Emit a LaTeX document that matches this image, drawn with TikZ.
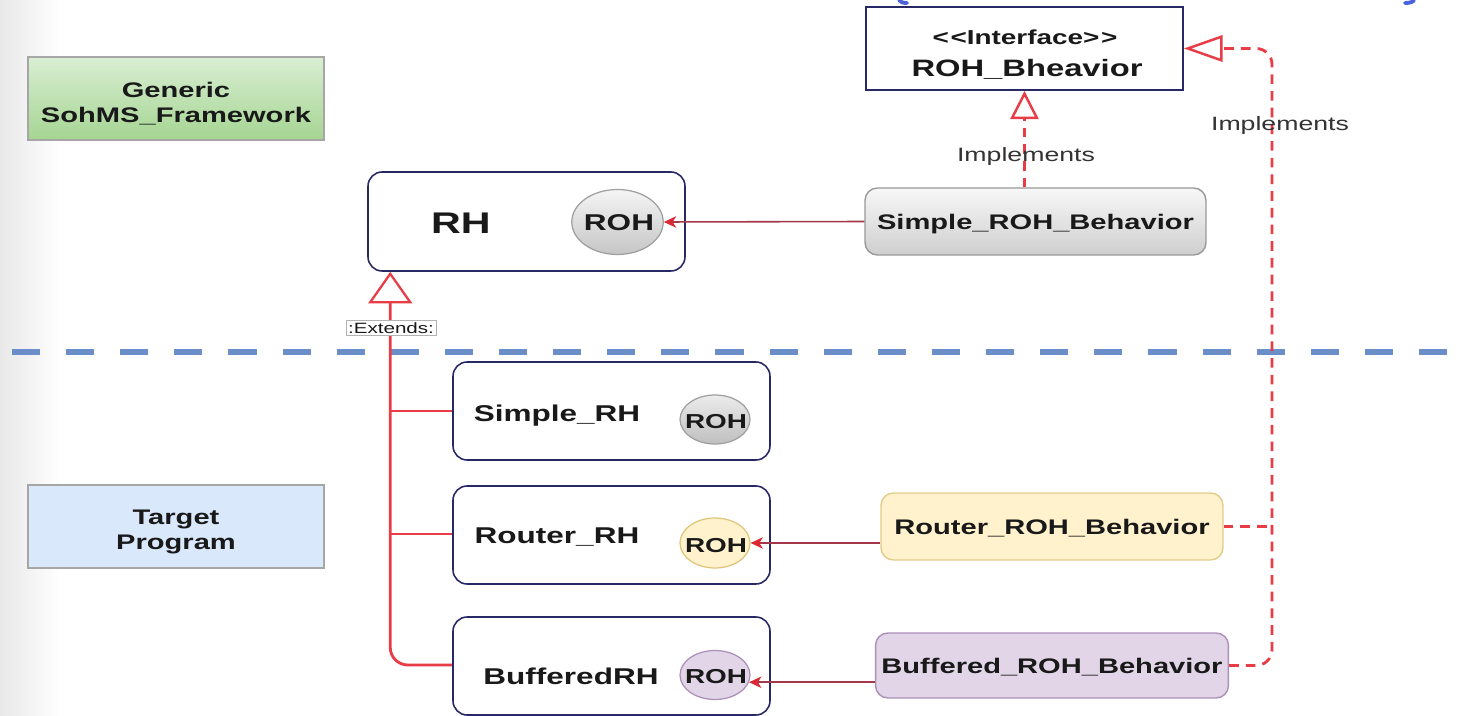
\documentclass[tikz,border=0pt]{standalone}
\usepackage{fontspec}
\setmainfont{Liberation Sans}[FakeStretch=1.38]
\usetikzlibrary{arrows.meta,calc,shapes.geometric}

\definecolor{navy}{RGB}{40,40,100}
\definecolor{implred}{RGB}{232,60,70}
\definecolor{compline}{RGB}{165,55,75}
\definecolor{comptip}{RGB}{220,40,50}
\definecolor{sepblue}{RGB}{108,142,200}
\definecolor{yelfill}{HTML}{FFF2CC}
\definecolor{yeldraw}{HTML}{D6B656}
\definecolor{purfill}{HTML}{E1D5E7}
\definecolor{purdraw}{HTML}{9673A6}
\definecolor{grntop}{HTML}{D9EED3}
\definecolor{grnbot}{HTML}{A5D592}
\definecolor{blufill}{HTML}{DAE8FC}
\definecolor{txt}{RGB}{25,25,25}

\tikzset{
  areabox/.style={draw=gray!70, line width=0.8pt, minimum width=5.92cm, minimum height=1.66cm},
  arealbl/.style={align=center, text=txt, font=\fontsize{12}{14.5}\selectfont\bfseries},
  classbox/.style={draw=navy, line width=0.9pt, rounded corners=8pt, fill=white,
    minimum width=6.34cm},
  behbox/.style={rounded corners=7pt, line width=0.8pt, minimum height=1.34cm, text depth=0pt,
    text=txt, font=\fontsize{12}{14}\selectfont\bfseries},
  port/.style={ellipse, line width=0.7pt, inner sep=0pt},
  portlbl/.style={text=txt, text depth=0pt, inner sep=0pt, font=\fontsize{#1}{#1}\selectfont\bfseries},
  clsname/.style={text=txt, text depth=0pt, font=\fontsize{13}{15}\selectfont\bfseries},
  comp/.style={draw=compline, line width=0.9pt, -{Stealth[length=7pt,width=6.5pt,inset=2pt,color=comptip]}},
  impl/.style={draw=implred, line width=1.6pt, dash pattern=on 5.5pt off 4pt},
  extline/.style={draw=implred, line width=1.6pt},
  lbl/.style={text=black!80, text depth=0pt, font=\fontsize{11}{13}\selectfont},
}

\begin{document}
\begin{tikzpicture}[x=0.02cm, y=-0.02cm]
\useasboundingbox (0,0) rectangle (1472,716);
\fill[white] (0,0) rectangle (1472,716);
% soft page edge on the left
\shade[left color=black!9, right color=white] (0,0) rectangle (60,716);

% ends of the brace at the top border
\draw[sepblue!70!blue, line width=2.2pt, line cap=round] (899,0) .. controls (900,2) and (903,3) .. (907,3);
\draw[sepblue!70!blue, line width=2.2pt, line cap=round] (1414,0) .. controls (1413,2) and (1410,3) .. (1405,3);

% separator between framework and target program
\draw[sepblue, line width=3.6pt, dash pattern=on 16pt off 14.8pt] (12,352) -- (1460,352);

% area labels
\node[areabox, top color=grntop, bottom color=grnbot] (generic) at (176,98.5) {};
\node[arealbl] (genericlbl) at (176,103.5) {Generic\\SohMS\_Framework};
\node[areabox, fill=blufill] (target) at (176,526.5) {};
\node[arealbl] (targetlbl) at (176,532) {Target\\Program};

% interface
\node[draw=navy, line width=1.1pt, fill=white, minimum width=6.34cm, minimum height=1.66cm] (iface) at (1024.5,48.5) {};
\node[text=txt, text depth=0pt, font=\fontsize{11.5}{13}\selectfont\bfseries] (ifst) at (1025,37) {<\kern1pt<Interface>\kern1pt>};
\node[text=txt, text depth=0pt, font=\fontsize{13.5}{15}\selectfont\bfseries] (ifname) at (1027,68) {ROH\_Bheavior};

% generic RH
\node[classbox, minimum height=1.98cm] (rh) at (526.5,221.5) {};
\node[text=txt, text depth=0pt, font=\fontsize{17}{19}\selectfont\bfseries] (rhname) at (461,223) {RH};
\node[port, draw=gray!75, top color=gray!8, bottom color=gray!45, minimum width=1.83cm, minimum height=1.3cm] (roh0) at (617.5,222) {};
\node[portlbl=13] (roh0lbl) at (619,223) {ROH};

% concrete RH classes
\node[classbox, minimum height=1.96cm] (srh) at (611.5,411) {};
\node[clsname] (srhname) at (557,413) {Simple\_RH};
\node[port, draw=gray!75, top color=gray!15, bottom color=gray!50, minimum width=1.4cm, minimum height=0.98cm] (roh1) at (715,419.5) {};
\node[portlbl=11.5] (roh1lbl) at (716,421) {ROH};

\node[classbox, minimum height=1.96cm] (rrh) at (611.5,535) {};
\node[clsname] (rrhname) at (557,536) {Router\_RH};
\node[port, draw=yeldraw!80, fill=yelfill, minimum width=1.4cm, minimum height=1.0cm] (roh2) at (715,543) {};
\node[portlbl=11.5] (roh2lbl) at (716,545) {ROH};

\node[classbox, minimum height=1.96cm] (brh) at (611.5,666) {};
\node[clsname] (brhname) at (571,676) {BufferedRH};
\node[port, draw=purdraw!80, fill=purfill, minimum width=1.4cm, minimum height=0.98cm] (roh3) at (715,675) {};
\node[portlbl=11.5] (roh3lbl) at (716,676) {ROH};

% behaviour implementations
\node[behbox, draw=gray!80, top color=gray!6, bottom color=gray!38, minimum width=6.82cm] (srb) at (1035.5,221.5) {Simple\_ROH\_Behavior};
\node[behbox, draw=yeldraw!70, fill=yelfill, minimum width=6.84cm] (rrb) at (1052,526.5) {Router\_ROH\_Behavior};
\node[behbox, draw=purdraw!80, fill=purfill, minimum width=7.04cm, minimum height=1.30cm] (brb) at (1052,665.5) {Buffered\_ROH\_Behavior};

% behaviours plugged into the ROH ports
\draw[comp] (srb.west) -- (roh0.east);
\draw[comp] (roh2.east -| rrb.west) -- (roh2.east);
\draw[comp] (roh3.-12 -| brb.west) -- (roh3.-12);

% realisation of the interface
\draw[impl, -{Triangle[length=16pt,width=16pt,fill=white,line width=1.4pt]}] (iface.south |- srb.north) -- (iface.south);
\node[lbl] (impl1) at (1026,155) {Implements};

\coordinate (jtop) at (1272,48.5);
\coordinate (jbot) at (1272,665.5);
\draw[impl, rounded corners=9pt, -{Triangle[length=22pt,width=15pt,fill=white,line width=1.4pt]}] (brb.east) -- (jbot) -- (jtop) -- (iface.east);
\draw[impl] (rrb.east) -- (rrb.east -| jtop);
\node[lbl] (impl2) at (1280,123) {Implements};

% generalisation to RH
\coordinate (ext) at ($(rh.south west)+(23,0)$);
\draw[extline, rounded corners=10pt, -{Triangle[length=18pt,width=25pt,fill=white,line width=1.3pt]}] (brh.west |- 0,665) -| (ext);
\draw[extline] (srh.west) -- (srh.west -| ext);
\draw[extline] (rrh.west |- 0,534) -- (ext |- 0,534);
\node[draw=gray!60, fill=white, line width=0.4pt, inner sep=1.2pt, text=txt,
  font=\fontsize{8.5}{10}\selectfont] (extlbl) at (391,328) {:Extends:};
\end{tikzpicture}
\end{document}
